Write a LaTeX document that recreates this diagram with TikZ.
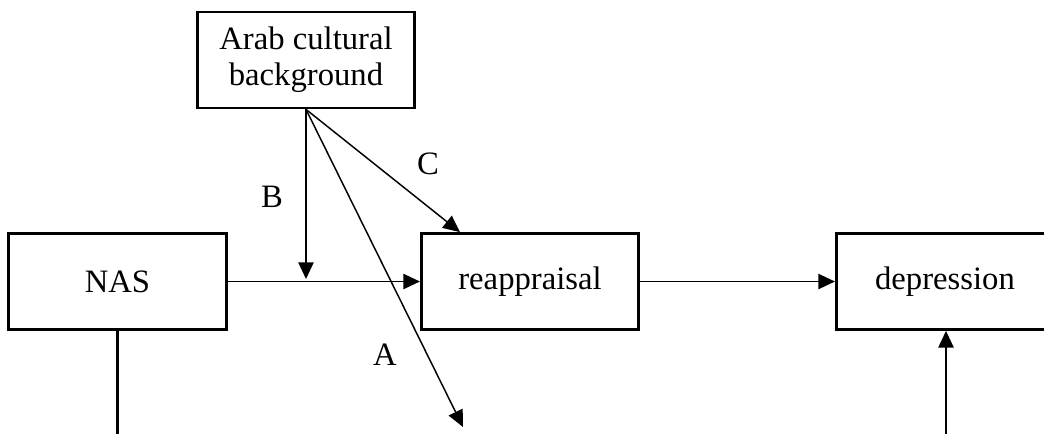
\documentclass[tikz,border=0pt]{standalone}
\usepackage{fontspec}
\setmainfont{Liberation Serif}
\usetikzlibrary{arrows.meta,calc}

\begin{document}
\begin{tikzpicture}[x=0.75pt,y=-0.75pt,>={Triangle[length=12.5pt,width=11.5pt]},
	font=\fontsize{24.5}{27}\selectfont,
	box/.style={draw,line width=2.1pt,minimum width=163pt,minimum height=72pt,
		inner sep=0pt,align=center},
	link/.style={->,line width=1.1pt}]
	\useasboundingbox (0,0) rectangle (1044,433);
	\clip (0,0) rectangle (1044,433);

	\node[box] (arab) at (306,60) {Arab cultural\\background};
	\node[box] (nas) at (117.5,281.5) {NAS};
	\node[box] (reap) at (530,281.5) {reappraisal};
	\node[box] (dep) at (945,281.5) {depression};

	\coordinate (bB) at (306,279);
	\coordinate (aA) at (463,427);
	\coordinate (cC) at ($(reap.north west)+(40,0)$);
	\coordinate (nasdown) at (117.5,445);
	\coordinate (depup) at (946,445);

	\draw[link] (nas) -- (reap);
	\draw[link] (reap) -- (dep);
	\draw[link] (arab.south) -- (bB);
	\draw[link] (arab.south) -- (cC);
	\draw[link] (arab.south) -- (aA);
	\draw[line width=1.6pt] (nas.south) -- (nasdown);
	\draw[link] (depup) -- (depup |- dep.south);

	\node (lblB) at (272,197) {B};
	\node (lblC) at (428,164) {C};
	\node (lblA) at (385,355) {A};
\end{tikzpicture}
\end{document}
